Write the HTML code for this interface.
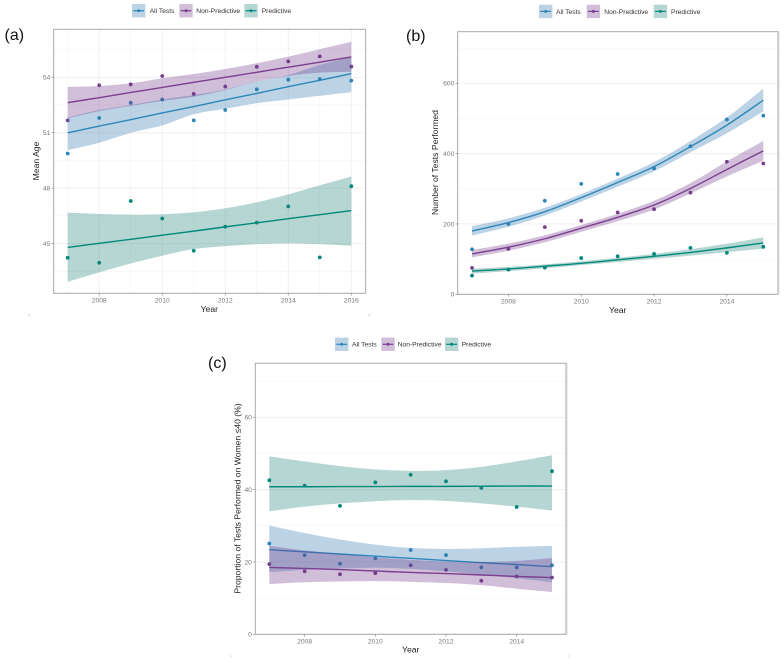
<!DOCTYPE html>
<html lang="en">
<head>
<meta charset="utf-8">
<title>Test trends by year</title>
<style>
html,body{margin:0;padding:0;background:#fff;width:784px;height:659px;overflow:hidden}
svg{display:block;font-family:"Liberation Sans",sans-serif;filter:blur(.35px)}
</style>
</head>
<body>
<svg id="fig" width="784" height="659" viewBox="0 0 784 659" xmlns="http://www.w3.org/2000/svg">
<rect width="784" height="659" fill="#fff"/>
<text x="4.5" y="40" font-size="16" fill="#111">(a)</text>
<text x="406" y="41" font-size="16" fill="#111">(b)</text>
<text x="208" y="368" font-size="16" fill="#111">(c)</text>
<path d="M28.5 314l1.5 2" stroke="#bbb" stroke-width=".7" fill="none"/>
<path d="M370 314l-1.5 2" stroke="#bbb" stroke-width=".7" fill="none"/>
<path d="M230.5 655l1 2" stroke="#ccc" stroke-width=".7" fill="none"/>
<path d="M570 656h-2" stroke="#ccc" stroke-width=".7" fill="none"/>
</svg>
<script>
/* Panel (a) Mean age */
const aYears = [2007,2008,2009,2010,2011,2012,2013,2014,2015,2016];
const aAllPoints = [49.88,51.8,52.62,52.8,51.67,52.23,53.35,53.87,53.9,53.82];
const aNonPoints = [51.67,53.57,53.62,54.07,53.1,53.5,54.57,54.86,55.13,54.58];
const aPredPoints = [44.24,43.97,47.31,46.36,44.62,45.92,46.14,47.02,44.26,48.11];
const aAllFit = [51.0,51.36,51.71,52.07,52.42,52.78,53.13,53.49,53.84,54.2];
const aAllLo = [50.06,50.46,51.0,51.4,52.0,52.3,52.6,52.8,53.0,53.2];
const aAllHi = [51.83,52.23,52.5,52.8,53.04,53.35,53.77,54.12,54.67,55.1];
const aNonFit = [52.63,52.9,53.18,53.45,53.73,54.0,54.27,54.55,54.82,55.1];
const aNonLo = [51.78,52.17,52.45,52.72,52.95,53.31,53.77,54.07,54.25,54.3];
const aNonHi = [53.48,53.53,53.67,53.95,54.18,54.45,54.76,55.12,55.52,55.92];
const aPredFit = [44.8,45.02,45.24,45.46,45.68,45.91,46.13,46.35,46.57,46.79];
const aPredLo = [42.94,43.45,43.93,44.35,44.71,44.87,44.98,45.02,44.98,44.89];
const aPredHi = [46.68,46.61,46.57,46.59,46.7,46.92,47.24,47.67,48.16,48.63];
const aYTicks = [45,48,51,54];
const aYMinor = [43.5,46.5,49.5,52.5,55.5];
const aXTicks = [2008,2010,2012,2014,2016];
const aXMinor = [2007,2009,2011,2013,2015];

/* Panel (b) Number of tests */
const bYears = [2007,2008,2009,2010,2011,2012,2013,2014,2015];
const bAllPoints = [128,200,266,314,342,358,421,497,508];
const bNonPoints = [75,129,191,209,233,242,289,377,372];
const bPredPoints = [53,70,76,103,108,115,132,118,135];
const bAllFit = [180,204,235,275,318,363,420,481,552];
const bAllLo = [167,192,224,264,306,350,404,458,520];
const bAllHi = [194,216,246,285,329,376,436,503,585];
const bNonFit = [115,134,158,188,219,254,301,355,408];
const bNonLo = [105,124,148,178,208,241,287,335,380];
const bNonHi = [126,144,168,197,229,266,316,378,436];
const bPredFit = [66,72,80,88,98,108,119,132,146];
const bPredLo = [59,66,74,83,92,101,110,120,130];
const bPredHi = [73,78,85,94,104,115,128,144,162];
const bYTicks = [0,200,400,600];
const bYMinor = [100,300,500,700];
const bXTicks = [2008,2010,2012,2014];

/* Panel (c) Proportion on women 40 and under */
const cYears = [2007,2008,2009,2010,2011,2012,2013,2014,2015];
const cAllPoints = [25.1,21.9,19.5,21,23.3,21.9,18.5,18.5,19.1];
const cNonPoints = [19.4,17.4,16.6,16.9,19.1,17.8,14.8,16,15.7];
const cPredPoints = [42.6,41.1,35.5,42,44.1,42.3,40.5,35.2,45.1];
const cAllFit = [23.4,22.8,22.2,21.6,21.0,20.4,19.8,19.3,18.7];
const cAllLo = [17.2,17.8,18.2,18.4,18.1,17.4,16.5,15.5,14.4];
const cAllHi = [30.1,28,26.2,24.8,23.9,23.6,23.8,24.2,24.5];
const cNonFit = [18.5,18.2,17.9,17.5,17.1,16.8,16.4,16.0,15.7];
const cNonLo = [13.9,14.4,14.6,14.7,14.5,14.2,13.6,12.6,11.7];
const cNonHi = [24.5,23.2,22.2,21.3,20.6,20.1,20,20.3,21.1];
const cPredFit = [40.8,40.8,40.85,40.85,40.9,40.9,40.95,41,41];
const cPredLo = [34,35.3,36.2,36.8,37.1,36.9,36.2,35.3,34.2];
const cPredHi = [49.2,47.8,46.5,45.6,45.2,45.4,46.3,47.8,49.5];
const cYTicks = [0,20,40,60];
const cYMinor = [10,30,50,70];
const cXTicks = [2008,2010,2012,2014];

const seriesNames = ['All Tests','Non-Predictive','Predictive'];

const NS = 'http://www.w3.org/2000/svg';
const LINE = ['#2e86b8','#7b3f8f','#00897b'];
const BAND = ['#2c76af','#70348a','#1d7e76'];
const BAND_ALPHA = .32;
const SLUG = ['all-tests','non-predictive','predictive'];
const fig = document.getElementById('fig');

function make(tag, attrs, parent){
  const n = document.createElementNS(NS, tag);
  for (const k in attrs) n.setAttribute(k, attrs[k]);
  parent.appendChild(n);
  return n;
}
function linear(d0, d1, r0, r1){
  return function(v){ return r0 + (v - d0) * (r1 - r0) / (d1 - d0); };
}
function curve(pts, start){
  let d = (start ? 'M' : 'L') + pts[0][0].toFixed(2) + ' ' + pts[0][1].toFixed(2);
  for (let i = 0; i < pts.length - 1; i++){
    const p0 = pts[Math.max(i - 1, 0)], p1 = pts[i], p2 = pts[i + 1], p3 = pts[Math.min(i + 2, pts.length - 1)];
    d += 'C' + (p1[0] + (p2[0] - p0[0]) / 6).toFixed(2) + ' ' + (p1[1] + (p2[1] - p0[1]) / 6).toFixed(2) + ' '
       + (p2[0] - (p3[0] - p1[0]) / 6).toFixed(2) + ' ' + (p2[1] - (p3[1] - p1[1]) / 6).toFixed(2) + ' '
       + p2[0].toFixed(2) + ' ' + p2[1].toFixed(2);
  }
  return d;
}

function drawLegend(id, keyXs, textXs, cy, g){
  seriesNames.forEach(function(label, i){
    const k = make('g', {}, g);
    
    
    const sw = make('rect', {x: keyXs[i], y: cy - 6.7, width: 13.4, height: 13.4, fill: BAND[i], 'fill-opacity': BAND_ALPHA}, k);
    
    
    const ln = make('line', {x1: keyXs[i] + 1.3, x2: keyXs[i] + 12.1, y1: cy, y2: cy, stroke: LINE[i], 'stroke-width': 1.2}, k);
    
    
    const dot = make('circle', {cx: keyXs[i] + 6.7, cy: cy, r: 1.5, fill: LINE[i]}, k);
    
    
    const t = make('text', {x: textXs[i], y: cy + 2.4, 'font-size': 6.7, fill: '#333'}, k);
    
    
    t.textContent = label;
  });
}

function drawPanel(c){
  const g = make('g', {}, fig);
  
  
  const x = c.x, y = c.y, r = c.rect;

  (c.yMinor || []).forEach(function(v){
    const l = make('line', {x1: r.l, x2: r.r, y1: y(v), y2: y(v), stroke: '#f3f3f3', 'stroke-width': .6}, g);
    
    
  });
  (c.xMinor || []).forEach(function(v){
    const l = make('line', {y1: r.t, y2: r.b, x1: x(v), x2: x(v), stroke: '#f3f3f3', 'stroke-width': .6}, g);
    
    
  });
  c.yTicks.forEach(function(v){
    const l = make('line', {x1: r.l, x2: r.r, y1: y(v), y2: y(v), stroke: '#eeeeee', 'stroke-width': .9}, g);
    
    
  });
  if (c.xGrid) c.xTicks.forEach(function(v){
    const l = make('line', {y1: r.t, y2: r.b, x1: x(v), x2: x(v), stroke: '#eeeeee', 'stroke-width': .9}, g);
    
    
  });

  c.points.forEach(function(vals, s){
    vals.forEach(function(v, i){
      const p = make('circle', {cx: x(c.years[i]), cy: y(v), r: 1.9, fill: LINE[s]}, g);
      
      
    });
  });
  c.fit.forEach(function(vals, s){
    const up = c.hi[s].map(function(v, i){ return [x(c.years[i]), y(v)]; });
    const dn = c.lo[s].map(function(v, i){ return [x(c.years[i]), y(v)]; }).reverse();
    const band = make('path', {d: curve(up, true) + curve(dn, false) + 'Z', fill: BAND[s], 'fill-opacity': BAND_ALPHA}, g);
    
    
    const pts = vals.map(function(v, i){ return [x(c.years[i]), y(v)]; });
    const line = make('path', {d: curve(pts, true), fill: 'none', stroke: LINE[s], 'stroke-width': 1.4}, g);
    
    
  });

  const frame = make('rect', {x: r.l, y: r.t, width: r.r - r.l, height: r.b - r.t, fill: 'none', stroke: '#a8a8a8', 'stroke-width': 1}, g);
  
  
  if (c.thickRight){
    const edge = make('line', {x1: r.r + .7, x2: r.r + .7, y1: r.t, y2: r.b, stroke: '#cfcfcf', 'stroke-width': 1.4}, g);
    
    
  }

  c.yTicks.forEach(function(v){
    const tk = make('line', {x1: r.l - 2.2, x2: r.l, y1: y(v), y2: y(v), stroke: '#888', 'stroke-width': .7}, g);
    
    
    const t = make('text', {x: r.l - 3.4, y: y(v) + 2.4, 'font-size': 6.7, fill: '#777', 'text-anchor': 'end'}, g);
    
    
    t.textContent = v;
  });
  c.xTicks.forEach(function(v){
    const tk = make('line', {y1: r.b, y2: r.b + 2.2, x1: x(v), x2: x(v), stroke: '#888', 'stroke-width': .7}, g);
    
    
    const t = make('text', {x: x(v), y: r.b + 9.2, 'font-size': 6.7, fill: '#777', 'text-anchor': 'middle'}, g);
    
    
    t.textContent = v;
  });

  const xt = make('text', {x: c.xTitle[0], y: c.xTitle[1], 'font-size': 8.6, fill: '#222', 'text-anchor': 'middle'}, g);
  
  
  xt.textContent = 'Year';
  const yt = make('text', {transform: 'translate(' + c.yTitle[0] + ' ' + c.yTitle[1] + ') rotate(-90)', 'font-size': 8.6, fill: '#222', 'text-anchor': 'middle'}, g);
  
  
  yt.textContent = c.yLabel;

  drawLegend(c.id, c.keyXs, c.textXs, c.legendY, g);
}

drawPanel({
  id: 'a', rect: {l: 53.7, r: 365.7, t: 29.3, b: 293.3},
  x: linear(2007, 2016, 67.7, 351.3), y: linear(45, 54, 243.7, 77.3),
  years: aYears, points: [aAllPoints, aNonPoints, aPredPoints],
  fit: [aAllFit, aNonFit, aPredFit], lo: [aAllLo, aNonLo, aPredLo], hi: [aAllHi, aNonHi, aPredHi],
  yTicks: aYTicks, yMinor: aYMinor, xTicks: aXTicks, xMinor: aXMinor, xGrid: true,
  yLabel: 'Mean Age', xTitle: [209.3, 312], yTitle: [39, 161],
  keyXs: [132, 179.3, 244.3], textXs: [149.7, 196.3, 261.7], legendY: 10.7
});
drawPanel({
  id: 'b', rect: {l: 457.7, r: 778, t: 31.7, b: 294.3}, thickRight: true,
  x: linear(2007, 2015, 472, 763.3), y: linear(0, 600, 294.3, 83.3),
  years: bYears, points: [bAllPoints, bNonPoints, bPredPoints],
  fit: [bAllFit, bNonFit, bPredFit], lo: [bAllLo, bNonLo, bPredLo], hi: [bAllHi, bNonHi, bPredHi],
  yTicks: bYTicks, yMinor: bYMinor, xTicks: bXTicks,
  yLabel: 'Number of Tests Performed', xTitle: [617.7, 313], yTitle: [438, 162.5],
  keyXs: [539, 586.7, 653.7], textXs: [556, 604.3, 671], legendY: 11.4
});
drawPanel({
  id: 'c', rect: {l: 255.3, r: 566, t: 363.3, b: 634.3}, thickRight: true,
  x: linear(2007, 2015, 269.3, 552), y: linear(0, 60, 634.3, 417.3),
  years: cYears, points: [cAllPoints, cNonPoints, cPredPoints],
  fit: [cAllFit, cNonFit, cPredFit], lo: [cAllLo, cNonLo, cPredLo], hi: [cAllHi, cNonHi, cPredHi],
  yTicks: cYTicks, yMinor: cYMinor, xTicks: cXTicks,
  yLabel: 'Proportion of Tests Performed on Women \u226440 (%)', xTitle: [410.7, 652.3], yTitle: [240.5, 498.5],
  keyXs: [335, 381.3, 445], textXs: [352, 397.7, 461.7], legendY: 344.3
});
</script>
</body>
</html>
